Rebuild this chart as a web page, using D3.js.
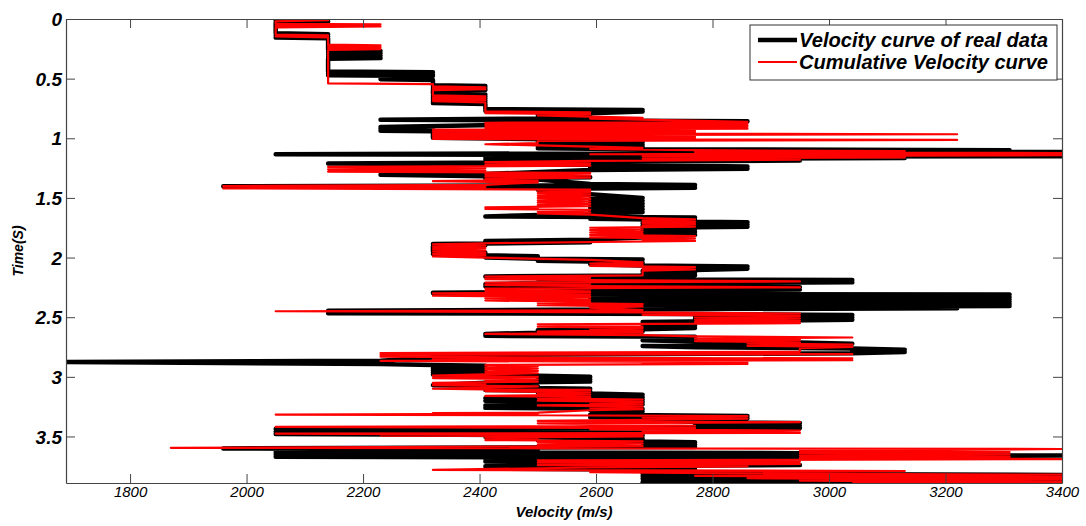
<!DOCTYPE html>
<html><head><meta charset="utf-8">
<script src="https://cdn.jsdelivr.net/npm/d3@7"></script>
<style>body{margin:0;background:#fff;}svg{display:block;}</style>
</head><body>
<svg id="chart" width="1086" height="526"></svg>
<script>
// ---------- data (time in s, velocity in m/s) ----------
const realSeries = [
[0.000,2050],[0.006,2140],[0.014,2050],[0.022,2140],[0.030,2050],
[0.120,2050],[0.128,2140],[0.136,2050],[0.146,2140],[0.156,2050],[0.162,2140],
[0.260,2140],[0.268,2230],[0.278,2140],[0.288,2230],[0.298,2140],[0.308,2230],[0.318,2140],[0.328,2230],[0.334,2140],
[0.440,2140],[0.446,2320],[0.456,2140],[0.466,2320],[0.472,2140],[0.478,2320],[0.505,2230],[0.512,2320],
[0.555,2320],[0.562,2410],[0.570,2320],[0.578,2410],[0.586,2320],[0.594,2410],[0.600,2320],
[0.625,2320],[0.633,2410],[0.641,2320],[0.649,2410],[0.657,2320],[0.665,2410],[0.673,2320],[0.681,2410],[0.689,2320],[0.697,2410],[0.705,2320],[0.712,2410],
[0.755,2410],[0.762,2680],[0.770,2410],[0.776,2680],[0.790,2590],[0.805,2500],[0.815,2590],[0.825,2500],[0.832,2590],
[0.845,2230],[0.858,2860],[0.868,2680],[0.905,2230],[0.912,2320],[0.920,2230],[0.928,2320],[0.936,2230],[0.942,2320],
[0.995,2320],[1.018,2680],[1.026,2500],[1.034,2680],[1.044,2500],[1.054,2680],[1.064,2500],[1.074,2680],[1.084,2500],[1.092,2680],
[1.100,3310],[1.108,3040],[1.116,3400],[1.134,2050],[1.150,3400],[1.156,2410],[1.166,3130],[1.176,2410],[1.186,2950],[1.198,2590],
[1.212,2140],[1.222,2590],[1.236,2860],[1.246,2590],[1.256,2860],[1.266,2590],[1.300,2410],[1.306,2230],[1.318,2410],[1.326,2590],[1.336,2410],[1.346,2500],
[1.384,2590],[1.392,2770],[1.402,1960],[1.414,2770],[1.422,2590],[1.432,2500],
[1.470,2590],[1.500,2680],[1.512,2590],[1.524,2680],[1.536,2590],[1.548,2680],[1.560,2590],[1.572,2680],[1.584,2590],[1.596,2680],[1.608,2590],[1.620,2680],[1.632,2590],
[1.655,2410],[1.665,2770],[1.675,2590],[1.685,2770],[1.695,2680],[1.703,2860],[1.713,2680],[1.723,2860],[1.733,2680],[1.741,2860],[1.750,2680],[1.762,2770],[1.774,2680],[1.786,2770],[1.798,2680],[1.810,2770],
[1.850,2590],[1.862,2410],[1.872,2590],[1.886,2320],[1.896,2410],[1.906,2320],[1.950,2320],[1.960,2410],[1.970,2320],[1.980,2410],[1.990,2500],[2.000,2410],[2.010,2500],[2.016,2680],[2.026,2500],[2.034,2590],
[2.044,2680],[2.056,2590],[2.066,2680],[2.074,2860],[2.084,2770],[2.094,2860],[2.104,2770],[2.112,2680],[2.124,2770],[2.136,2680],[2.148,2770],[2.158,2410],[2.168,2680],[2.178,2500],[2.188,3040],[2.198,2950],[2.208,3040],[2.216,2500],[2.224,2410],[2.232,2680],[2.240,2410],[2.248,2950],[2.258,2590],[2.268,2950],[2.278,2590],[2.288,2500],
[2.296,2320],[2.304,2410],[2.310,3310],[2.320,2590],[2.330,3310],[2.340,2590],[2.350,3310],[2.360,2590],[2.370,3310],[2.380,2590],[2.390,3310],[2.398,2590],[2.406,3310],[2.414,2680],[2.424,3220],[2.434,2680],[2.446,2140],[2.458,2680],[2.466,2140],[2.474,2770],
[2.482,3040],[2.492,2770],[2.502,3040],[2.512,2770],[2.522,3040],[2.540,2680],[2.550,2770],[2.560,2680],[2.570,2770],[2.580,2680],[2.590,2770],[2.600,2680],[2.610,2500],[2.620,2680],[2.630,2500],[2.640,2410],[2.648,2500],[2.656,2410],
[2.664,2770],[2.674,2680],[2.684,2770],[2.694,2680],[2.704,2770],[2.712,2950],[2.722,3040],[2.732,2950],[2.742,2680],[2.752,2770],[2.762,3040],[2.772,3130],[2.782,3040],[2.792,3130],[2.802,3040],
[2.818,2320],[2.828,2410],[2.838,2320],[2.866,2230],[2.876,1690],[2.884,1960],[2.892,2230],
[2.900,2320],[2.908,2410],[2.916,2320],[2.924,2410],[2.932,2320],[2.940,2410],[2.948,2320],[2.956,2410],[2.964,2320],[2.972,2410],[2.980,2320],[2.990,2500],[3.000,2590],[3.010,2500],[3.020,2590],[3.030,2500],[3.040,2590],[3.050,2410],
[3.070,2320],[3.080,2500],[3.090,2410],[3.100,2590],[3.110,2410],[3.120,2590],[3.130,2500],[3.150,2680],[3.160,2590],[3.170,2680],[3.180,2410],[3.190,2680],[3.200,2410],[3.210,2680],[3.220,2590],[3.230,2680],[3.240,2410],[3.250,2590],[3.260,2410],[3.270,2680],[3.280,2590],[3.290,2680],
[3.318,2590],[3.328,2860],[3.338,2590],[3.348,2860],[3.358,2680],[3.378,2770],[3.388,2950],[3.398,2770],[3.408,2950],[3.418,2770],[3.428,2950],[3.438,2050],[3.448,2410],[3.458,2050],[3.470,2680],[3.480,2050],[3.492,2680],[3.502,2410],
[3.520,2680],[3.530,2500],[3.548,2770],[3.558,2680],[3.568,2770],[3.578,2680],[3.588,2770],[3.600,1960],[3.610,2500],
[3.630,2050],[3.640,2950],[3.650,2050],[3.660,3400],[3.670,2050],[3.680,2950],[3.690,2410],
[3.700,2770],[3.710,2410],[3.720,2770],[3.730,2860],[3.740,2950],[3.750,2410],[3.760,2770],[3.770,2410],[3.780,2770],[3.790,2680],[3.800,2770],
[3.812,2680],[3.822,3400],[3.832,2680],[3.842,3400],[3.852,2680],[3.862,3220],[3.872,3400],[3.882,2680],[3.890,3400]
];

const cumulativeSeries = [
[0.000,2050],[0.010,2140],[0.020,2050],[0.040,2050],[0.045,2230],[0.055,2050],[0.062,2230],[0.070,2050],
[0.130,2050],[0.138,2140],[0.146,2050],[0.154,2140],
[0.215,2140],[0.220,2230],[0.228,2140],[0.236,2230],[0.244,2140],[0.252,2230],[0.260,2140],
[0.540,2140],[0.546,2320],
[0.565,2320],[0.572,2410],[0.580,2320],[0.588,2410],[0.596,2320],
[0.640,2320],[0.648,2410],[0.656,2320],[0.664,2410],[0.672,2320],[0.680,2410],[0.688,2320],[0.700,2410],
[0.775,2410],[0.782,2590],[0.790,2410],[0.798,2590],[0.808,2500],[0.818,2590],[0.828,2680],[0.836,2590],
[0.862,2860],[0.870,2410],[0.876,2860],[0.884,2410],[0.890,2860],[0.898,2410],[0.904,2860],[0.912,2410],[0.920,2860],[0.928,2320],
[0.936,2770],[0.944,2320],[0.952,2770],[0.960,2320],[0.966,3220],[0.974,2320],[0.982,2770],[0.990,2320],[0.998,2770],[1.006,2320],[1.014,3220],[1.022,2500],
[1.040,2500],[1.050,2410],[1.060,2500],[1.070,2590],[1.080,2680],[1.090,2590],
[1.100,2770],[1.108,3130],[1.116,2770],[1.124,3400],[1.134,2590],[1.142,3400],[1.150,2680],[1.160,3130],[1.170,2680],[1.180,2950],[1.190,2590],
[1.200,2410],[1.210,2590],[1.220,2410],[1.230,2590],[1.240,2140],[1.250,2410],[1.260,2140],[1.270,2410],[1.280,2140],[1.290,2590],[1.300,2410],[1.310,2590],[1.320,2410],[1.330,2590],[1.340,2410],[1.350,2500],[1.360,2320],[1.370,2500],
[1.390,2410],[1.400,1960],[1.410,2410],[1.420,1960],[1.430,2590],[1.440,2500],[1.450,2590],[1.460,2500],[1.470,2590],[1.480,2500],[1.490,2590],[1.500,2500],[1.510,2590],[1.520,2500],[1.530,2590],[1.540,2500],[1.550,2590],[1.560,2500],[1.570,2590],[1.580,2410],[1.586,2500],[1.592,2410],[1.600,2590],[1.610,2500],[1.620,2590],[1.630,2500],[1.640,2590],
[1.670,2680],[1.680,2770],[1.690,2680],[1.700,2770],[1.710,2680],[1.720,2770],[1.730,2680],[1.740,2770],[1.750,2590],
[1.760,2680],[1.770,2590],[1.780,2680],[1.790,2590],[1.800,2680],[1.810,2590],[1.820,2770],[1.830,2590],[1.840,2770],[1.850,2680],[1.860,2770],
[1.880,2410],[1.890,2320],[1.900,2410],[1.910,2320],[1.920,2410],[1.930,2320],[1.940,2410],[1.950,2320],[1.960,2410],[1.970,2320],[1.980,2410],[1.990,2320],[2.000,2410],
[2.020,2590],[2.040,2680],[2.050,2590],[2.060,2680],[2.070,2590],[2.080,2770],[2.090,2680],[2.100,2770],[2.110,2680],
[2.150,2680],[2.160,2410],[2.170,2590],[2.180,2410],[2.190,2590],[2.200,2950],[2.210,2410],[2.220,2590],[2.230,2410],[2.240,2590],[2.250,2950],[2.260,2410],[2.270,2590],[2.280,2410],[2.290,2590],[2.300,2320],[2.310,2590],[2.320,2320],[2.330,2590],[2.340,2410],[2.350,2590],[2.360,2410],[2.370,2590],[2.380,2500],[2.390,2680],[2.400,2500],[2.410,2680],[2.420,2590],
[2.440,2680],[2.450,2050],[2.460,2680],[2.470,2950],[2.480,2680],[2.490,2950],[2.500,2770],[2.510,2950],[2.520,2770],[2.530,2950],[2.540,2770],[2.550,2950],
[2.560,2500],[2.570,2680],[2.580,2500],[2.590,2680],[2.600,2590],[2.610,2680],[2.620,2500],[2.630,2680],[2.640,2410],[2.650,2680],
[2.660,2770],[2.670,3040],[2.680,2770],[2.690,2950],[2.700,2770],[2.710,2950],[2.720,2860],[2.730,3040],[2.740,2860],[2.750,3040],[2.760,2950],
[2.790,2950],[2.800,2230],[2.810,3040],[2.816,2230],[2.824,2320],[2.830,2230],[2.840,2590],[2.846,3040],[2.852,2320],
[2.860,3040],[2.866,2230],[2.876,2860],[2.884,2680],[2.892,2860],[2.900,2410],
[2.910,2500],[2.920,2410],[2.930,2500],[2.940,2410],[2.950,2500],[2.960,2410],[2.970,2500],[2.980,2410],
[2.990,2320],[3.000,2500],[3.010,2320],[3.020,2500],[3.030,2410],[3.040,2500],[3.050,2320],[3.060,2410],[3.070,2320],[3.080,2500],[3.100,2320],[3.105,2410],
[3.110,2590],[3.120,2410],[3.130,2590],[3.140,2500],[3.150,2590],[3.160,2410],[3.170,2590],[3.180,2500],[3.190,2680],[3.200,2500],[3.210,2680],[3.220,2590],[3.230,2680],[3.240,2500],[3.250,2680],[3.260,2590],[3.270,2680],[3.280,2590],
[3.300,2500],[3.305,2320],[3.310,2500],[3.316,2050],[3.322,2500],
[3.330,2860],[3.340,2680],[3.350,2860],[3.360,2680],[3.370,2500],[3.380,2950],[3.390,2500],
[3.410,2770],[3.420,2050],[3.430,2770],[3.440,2590],[3.450,2950],[3.460,2680],[3.470,2950],[3.476,2050],[3.486,2680],[3.492,2230],[3.500,2680],
[3.510,2410],[3.520,2500],[3.530,2410],[3.540,2680],[3.550,2500],[3.560,2680],[3.570,2500],[3.580,2680],
[3.595,1870],[3.605,3400],[3.620,2950],[3.630,3310],[3.640,2950],[3.650,3310],[3.660,2950],[3.670,3310],[3.680,2950],[3.690,3400],[3.700,2500],
[3.710,2950],[3.720,2500],[3.730,2950],[3.740,2500],[3.750,2860],[3.760,2590],
[3.780,2320],[3.790,3130],[3.800,2590],
[3.810,2860],[3.820,3400],[3.830,2770],[3.840,3400],[3.850,2860],[3.860,3400],[3.870,2950],[3.880,3400],[3.890,3040]
];

const velocityTicks = [1800, 2000, 2200, 2400, 2600, 2800, 3000, 3200, 3400];
const timeTicks = [0, 0.5, 1, 1.5, 2, 2.5, 3, 3.5];
const velocityDomain = [1690, 3400];
const timeDomain = [0, 3.89];
const legendLabels = ["Velocity curve of real data", "Cumulative Velocity curve"];
const seriesColors = ["#000000", "#ff0000"];

// ---------- layout ----------
const plot = {left: 66, right: 1062, top: 19, bottom: 483};
const svg = d3.select("#chart");
const x = d3.scaleLinear().domain(velocityDomain).range([plot.left, plot.right]);
const y = d3.scaleLinear().domain(timeDomain).range([plot.top, plot.bottom]);

svg.append("defs").append("clipPath").attr("id", "clip")
  .append("rect").attr("x", plot.left).attr("y", plot.top)
  .attr("width", plot.right - plot.left).attr("height", plot.bottom - plot.top);

const line = d3.line().x(d => x(d[1])).y(d => y(d[0]));
const g = svg.append("g").attr("clip-path", "url(#clip)");
g.append("path").datum(realSeries).attr("d", line)
  .attr("fill", "none").attr("stroke", seriesColors[0]).attr("stroke-width", 4.5)
  .attr("stroke-linejoin", "round");
g.append("path").datum(cumulativeSeries).attr("d", line)
  .attr("fill", "none").attr("stroke", seriesColors[1]).attr("stroke-width", 2.2)
  .attr("stroke-linejoin", "round");

// ---------- axes ----------
const axisColor = "#444";
const fmtT = d => d === 0 ? "0" : String(d);
const axBottom = svg.append("g").attr("transform", `translate(0,${plot.bottom})`)
  .call(d3.axisBottom(x).tickValues(velocityTicks).tickSizeInner(-9).tickSizeOuter(0).tickPadding(3).tickFormat(d3.format("d")));
const axTop = svg.append("g").attr("transform", `translate(0,${plot.top})`)
  .call(d3.axisTop(x).tickValues(velocityTicks).tickSizeInner(-9).tickSizeOuter(0).tickFormat(""));
const axLeft = svg.append("g").attr("transform", `translate(${plot.left},0)`)
  .call(d3.axisLeft(y).tickValues(timeTicks).tickSizeInner(-9).tickSizeOuter(0).tickPadding(4).tickFormat(fmtT));
const axRight = svg.append("g").attr("transform", `translate(${plot.right},0)`)
  .call(d3.axisRight(y).tickValues(timeTicks).tickSizeInner(-9).tickSizeOuter(0).tickFormat(""));
[axBottom, axTop, axLeft, axRight].forEach(a => {
  a.select(".domain").attr("stroke", axisColor).attr("stroke-width", 1.2);
  a.selectAll(".tick line").attr("stroke", axisColor).attr("stroke-width", 1);
});
axBottom.selectAll(".tick text").attr("font-family", "Liberation Sans, Arial, sans-serif")
  .attr("font-size", 15).attr("font-style", "italic").attr("fill", "#000");
axLeft.selectAll(".tick text").attr("font-family", "Liberation Sans, Arial, sans-serif")
  .attr("font-size", 19).attr("font-weight", "bold").attr("font-style", "italic").attr("fill", "#000").attr("dy", "0.35em");

svg.append("text").attr("x", (plot.left + plot.right) / 2).attr("y", 517)
  .attr("text-anchor", "middle").attr("font-family", "Liberation Sans, Arial, sans-serif")
  .attr("font-size", 15).attr("font-weight", "bold").attr("font-style", "italic")
  .text("Velocity (m/s)");
svg.append("text").attr("transform", `translate(23,${(plot.top + plot.bottom) / 2}) rotate(-90)`)
  .attr("text-anchor", "middle").attr("font-family", "Liberation Sans, Arial, sans-serif")
  .attr("font-size", 14).attr("font-weight", "bold").attr("font-style", "italic")
  .text("Time(S)");

// ---------- legend ----------
const lg = svg.append("g");
lg.append("rect").attr("x", 750).attr("y", 25).attr("width", 307).attr("height", 55)
  .attr("fill", "#fff").attr("stroke", "#333").attr("stroke-width", 1);
const legendWidths = [4.5, 2.2];
legendLabels.forEach((lab, i) => {
  const yy = 40 + i * 22;
  lg.append("line").attr("x1", 758).attr("x2", 797).attr("y1", yy).attr("y2", yy)
    .attr("stroke", seriesColors[i]).attr("stroke-width", legendWidths[i]);
  lg.append("text").attr("x", 799).attr("y", yy + 6.5)
    .attr("font-family", "Liberation Sans, Arial, sans-serif").attr("font-size", 19.5)
    .attr("font-weight", "bold").attr("font-style", "italic")
    .attr("textLength", 249).attr("lengthAdjust", "spacingAndGlyphs")
    .text(lab);
});
</script>
</body></html>
